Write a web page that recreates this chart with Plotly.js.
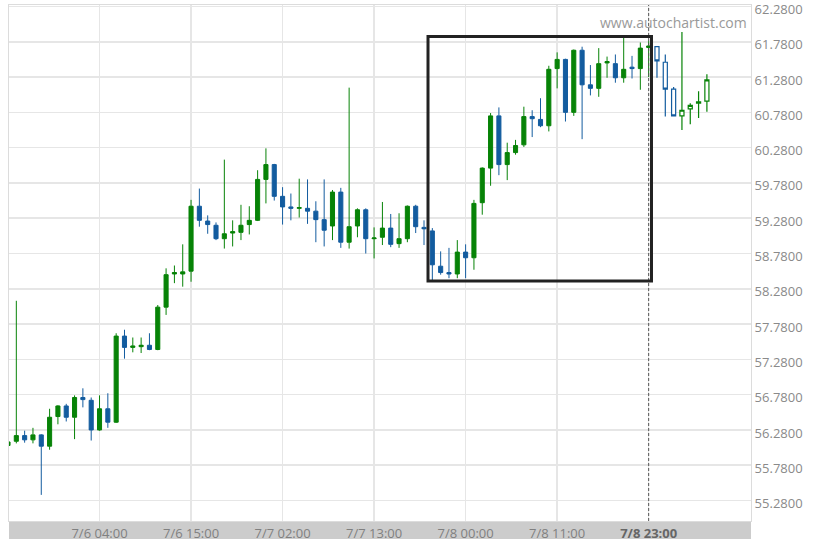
<!DOCTYPE html>
<html>
<head>
<meta charset="utf-8">
<script src="https://cdn.plot.ly/plotly-3.0.1.min.js"></script>
<style>
  html, body { margin: 0; padding: 0; background: #ffffff; }
  #chart { width: 822px; height: 548px; }
</style>
</head>
<body>
<div id="chart"></div>
<script>
// ---- Data (hourly candles) ----
const openVals = [56.06,56.12,56.20,56.14,56.21,56.05,56.47,56.62,56.46,56.74,56.70,56.28,56.58,56.39,57.61,57.45,57.46,57.48,57.42,58.02,
  58.49,58.49,58.53,59.45,59.24,59.18,58.99,59.07,59.08,59.19,59.25,59.83,60.04,59.59,59.44,59.42,59.42,59.38,59.26,59.17,
  59.65,58.94,59.17,59.40,58.99,59.01,59.14,58.92,58.99,59.45,59.15,59.10,58.60,58.51,58.49,58.80,58.72,59.50,59.99,60.73,
  60.04,60.21,60.32,60.72,60.68,60.59,61.40,61.53,60.78,61.66,61.17,61.12,61.48,61.47,61.27,61.42,61.40,61.70];
const highVals = [56.13,58.11,56.27,56.31,56.22,56.58,56.63,56.65,56.77,56.87,56.74,56.77,56.80,57.65,57.70,57.59,57.59,57.65,58.05,58.57,
  58.61,58.91,59.54,59.70,59.32,59.22,60.11,59.25,59.47,59.45,59.96,60.27,60.05,59.72,59.63,59.84,59.83,59.52,59.83,59.68,
  59.71,61.13,59.42,59.42,59.15,59.51,59.34,59.35,59.46,59.47,59.25,59.14,58.81,58.86,58.97,58.91,59.54,60.00,60.77,60.85,
  60.35,60.39,60.86,60.81,60.98,61.44,61.63,61.54,61.67,61.71,61.45,61.69,61.57,61.60,61.85,61.58,61.77,61.79];
const lowVals = [56.05,56.09,56.10,56.09,55.36,56.00,56.36,56.40,56.15,56.60,56.13,56.27,56.31,56.38,57.29,57.38,57.37,57.41,57.41,57.91,
  58.36,58.31,58.38,59.16,59.06,58.97,58.85,58.88,58.97,59.05,59.24,59.49,59.53,59.19,59.25,59.29,59.20,58.94,58.88,58.97,
  58.86,58.85,59.01,58.78,58.71,58.90,58.87,58.86,58.94,59.07,58.90,58.40,58.48,58.43,58.43,58.43,58.55,59.33,59.74,59.89,
  59.82,60.18,60.29,60.43,60.57,60.51,61.12,60.65,60.73,60.40,61.02,61.00,61.27,61.20,61.20,61.26,61.10,61.28];
const closeVals = [56.11,56.20,56.14,56.21,56.05,56.46,56.62,56.46,56.74,56.71,56.28,56.58,56.39,57.61,57.45,57.47,57.48,57.42,58.02,58.48,
  58.51,58.52,59.45,59.25,59.19,58.99,59.06,59.09,59.18,59.25,59.83,60.04,59.59,59.44,59.42,59.43,59.38,59.26,59.11,59.65,
  58.94,59.16,59.40,58.99,59.00,59.14,58.91,58.99,59.45,59.16,59.13,58.62,58.51,58.49,58.80,58.72,59.49,59.99,60.73,60.04,
  60.21,60.31,60.72,60.69,60.59,61.39,61.53,60.78,61.66,61.17,61.12,61.47,61.50,61.27,61.39,61.40,61.69,61.72];

// candles after the current-time marker (drawn hollow)
const nextOpen  = [61.71,61.49,61.11,60.73,60.83,60.91,60.94];
const nextHigh  = [61.72,61.60,61.14,61.92,60.91,61.08,61.32];
const nextLow   = [61.27,60.72,60.72,60.53,60.61,60.70,60.79];
const nextClose = [61.51,61.11,60.73,60.81,60.88,60.93,61.24];

// x-axis tick labels (candle index -> label)
const tickIdx    = [11, 22, 33, 44, 55, 66, 77];
const tickLabels = ['7/6 04:00','7/6 15:00','7/7 02:00','7/7 13:00','7/8 00:00','7/8 11:00','7/8 23:00'];
const currentIdx = 77;          // dashed "now" marker

// y-axis ticks
const yTicks = [55.28,55.78,56.28,56.78,57.28,57.78,58.28,58.78,59.28,59.78,60.28,60.78,61.28,61.78,62.28];

// detected pattern rectangle: [start index, end index], [low, high]
const patternX = [50.48, 77.34];
const patternY = [58.39, 61.855];

// ---- Build ----
const GREEN = '#078307';
const BLUE  = '#135c9f';

const xMain = openVals.map((_, i) => i);
const xNext = nextOpen.map((_, i) => openVals.length + i);

const ticktext = tickLabels.map((t, i) => i === tickLabels.length - 1
  ? '<b><span style="color:#666666">' + t + '</span></b>' : t);

const traces = [
  {
    type: 'candlestick', x: xMain, open: openVals, high: highVals, low: lowVals, close: closeVals,
    increasing: { line: { color: GREEN, width: 1 }, fillcolor: GREEN },
    decreasing: { line: { color: BLUE, width: 1 }, fillcolor: BLUE },
    whiskerwidth: 0, hoverinfo: 'skip', showlegend: false
  },
  {
    type: 'candlestick', x: xNext, open: nextOpen, high: nextHigh, low: nextLow, close: nextClose,
    increasing: { line: { color: GREEN, width: 1.2 }, fillcolor: '#ffffff' },
    decreasing: { line: { color: BLUE, width: 1.2 }, fillcolor: '#ffffff' },
    whiskerwidth: 0, hoverinfo: 'skip', showlegend: false
  }
];

const layout = {
  width: 822, height: 548,
  margin: { l: 9, r: 71, t: 5, b: 27 },
  paper_bgcolor: '#ffffff', plot_bgcolor: '#ffffff',
  font: { family: '"Open Sans", sans-serif', size: 13, color: '#8a8a8a' },
  showlegend: false,
  xaxis: {
    range: [0.12, 89.3],
    rangeslider: { visible: false },
    tickmode: 'array', tickvals: tickIdx, ticktext: ticktext,
    showgrid: true, gridcolor: '#e6e6e6', gridwidth: 1.5,
    zeroline: false, ticks: '',
    showline: true, linecolor: '#dcdcdc', linewidth: 1, mirror: true,
    tickfont: { family: '"Open Sans", sans-serif', size: 13, color: '#808080' },
    fixedrange: true
  },
  yaxis: {
    side: 'right',
    range: [54.99, 62.301],
    tickmode: 'array', tickvals: yTicks, tickformat: '.4f',
    ticklabeloverflow: 'allow', ticklabelshift: 3,
    showgrid: true, gridcolor: '#e6e6e6', gridwidth: 1.5,
    zeroline: false, ticks: '',
    showline: true, linecolor: '#dcdcdc', linewidth: 1, mirror: true,
    tickfont: { family: '"Open Sans", sans-serif', size: 13, color: '#8a8a8a' },
    fixedrange: true
  },
  shapes: [
    { type: 'rect', xref: 'paper', yref: 'paper', x0: 0, x1: 1,
      ysizemode: 'pixel', yanchor: 0, y0: -18, y1: 0,
      fillcolor: '#cccccc', line: { width: 0 }, layer: 'below' },
    { type: 'line', xref: 'x', yref: 'paper', x0: currentIdx, x1: currentIdx, y0: 0, y1: 1,
      line: { color: '#555555', width: 1, dash: '3px,2px' }, layer: 'above' },
    { type: 'rect', xref: 'x', yref: 'y', x0: patternX[0], x1: patternX[1], y0: patternY[0], y1: patternY[1],
      line: { color: '#222222', width: 3 }, fillcolor: 'rgba(0,0,0,0)', layer: 'above' }
  ],
  annotations: [
    { text: 'www.autochartist.com', xref: 'paper', yref: 'paper', x: 1, y: 1,
      xanchor: 'right', yanchor: 'top', xshift: -2, yshift: -6, showarrow: false,
      font: { family: '"Open Sans", sans-serif', size: 14, color: '#999999' } }
  ]
};

Plotly.newPlot('chart', traces, layout, { staticPlot: true, displayModeBar: false });
</script>
</body>
</html>
